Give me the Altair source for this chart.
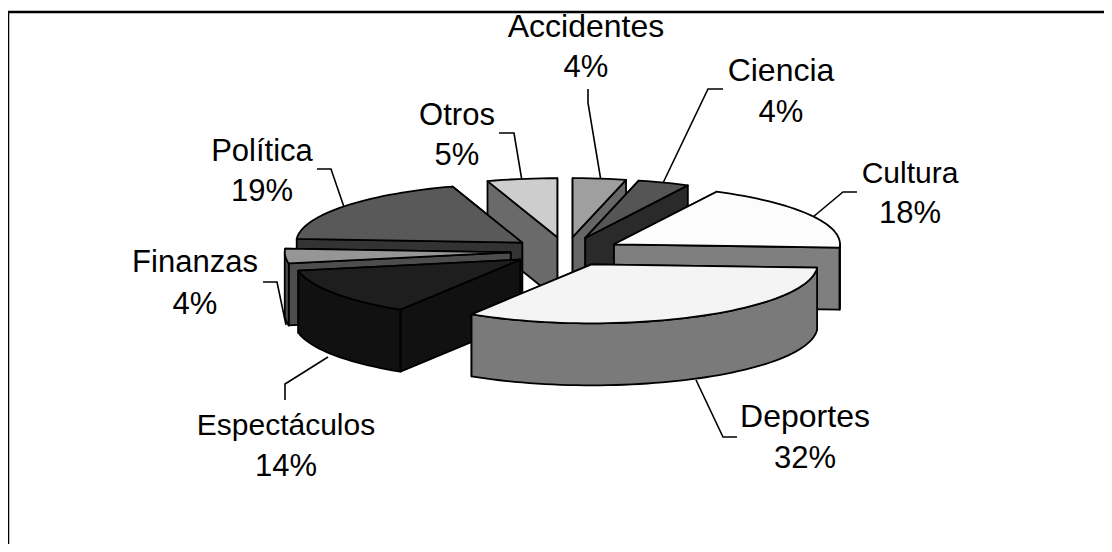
import math
import altair as alt

# Chart values
categories = ["Accidentes", "Ciencia", "Cultura", "Deportes", "Espectáculos", "Finanzas", "Política", "Otros"]
percent_labels = ["4%", "4%", "18%", "32%", "14%", "4%", "19%", "5%"]
shares = [3.8, 3.7, 18.4, 33.0, 13.1, 4.0, 19.0, 5.0]

# Styles
top_colors = ["#9f9f9f", "#555555", "#fcfcfc", "#f4f4f4", "#1e1e1e", "#969696", "#595959", "#cdcdcd"]
side_colors = ["#666666", "#2a2a2a", "#7f7f7f", "#7a7a7a", "#111111", "#4d4d4d", "#333333", "#6a6a6a"]
paint_order = ["Otros", "Accidentes", "Ciencia", "Política", "Cultura", "Finanzas", "Espectáculos", "Deportes"]

# Label placement: centre x, baseline of name, baseline of percentage, font size
label_x = [586, 781, 910, 805, 286, 195, 262, 457]
label_y1 = [37, 81, 183, 427, 435, 272, 161, 125]
label_y2 = [77, 122, 223, 468, 476, 314, 201, 165]
label_size = [32, 32, 30, 32, 30, 31, 31, 31]

# Leader lines
leaders = [
    [[588, 89], [588, 103], [601, 181]],
    [[723, 89], [708, 89], [663, 183]],
    [[857, 192], [843, 192], [813, 217]],
    [[696, 380], [723, 437], [737, 437]],
    [[328, 357], [285, 384], [285, 400]],
    [[263, 282], [277, 282], [286, 325]],
    [[317, 169], [331, 169], [344, 207]],
    [[499, 133], [514, 133], [522, 181]],
]
frame = [[8, 552], [8, 12], [1112, 12]]

# Pie geometry
CX, CY, RX, RY, DEPTH, EXPLODE = 566, 251.5, 226, 59, 62, 0.245


def rim(a, ax, ay, dz=0):
    r = math.radians(a)
    return [ax + RX * math.sin(r), ay - RY * math.cos(r) + dz]


def poly(points, fill):
    ring = [list(p) for p in points] + [list(points[0])]
    return {"type": "Feature", "properties": {"fill": fill},
            "geometry": {"type": "Polygon", "coordinates": [ring]}}


def slice_faces(start, end, top, side):
    mid = math.radians((start + end) / 2)
    ax = CX + EXPLODE * RX * math.sin(mid)
    ay = CY - EXPLODE * RY * math.cos(mid)
    apex, apex_low = [ax, ay], [ax, ay + DEPTH]

    walls = []
    for a in (start, end):
        p, q = rim(a, ax, ay), rim(a, ax, ay, DEPTH)
        walls.append((p[1], poly([apex, p, q, apex_low], side)))
    walls.sort(key=lambda w: w[0])
    faces = [w[1] for w in walls]

    lo, hi = max(start, 90), min(end, 270)
    if lo < hi:
        n = max(2, int((hi - lo) / 2))
        angs = [lo + (hi - lo) * i / n for i in range(n + 1)]
        upper = [rim(a, ax, ay) for a in angs]
        lower = [rim(a, ax, ay, DEPTH) for a in reversed(angs)]
        faces.append(poly(upper + lower, side))

    n = max(2, int((end - start) / 2))
    angs = [start + (end - start) * i / n for i in range(n + 1)]
    faces.append(poly([apex] + [rim(a, ax, ay) for a in angs], top))
    return faces


bounds = {}
acc = 0
for name, s in zip(categories, shares):
    bounds[name] = (acc * 3.6, (acc + s) * 3.6)
    acc += s

features = []
for name in paint_order:
    i = categories.index(name)
    features += slice_faces(*bounds[name], top_colors[i], side_colors[i])


def line(points):
    return {"type": "Feature", "properties": {},
            "geometry": {"type": "LineString", "coordinates": points}}


text_rows = []
for i, name in enumerate(categories):
    text_rows.append({"t": name, "lon": label_x[i], "lat": label_y1[i], "s": label_size[i]})
    text_rows.append({"t": percent_labels[i], "lon": label_x[i], "lat": label_y2[i], "s": 31})

proj = dict(type="identity", scale=1, translate=[-8, -8])

faces = alt.Chart(alt.Data(values=features)).mark_geoshape(
    stroke="black", strokeWidth=1.8, strokeJoin="round"
).encode(fill=alt.Fill("properties.fill:N", scale=None)).project(**proj)

leader_lines = alt.Chart(alt.Data(values=[line(l) for l in leaders])).mark_geoshape(
    filled=False, stroke="black", strokeWidth=1.6
).project(**proj)

frame_line = alt.Chart(alt.Data(values=[line(frame)])).mark_geoshape(
    filled=False, stroke="black", strokeWidth=2.5
).project(**proj)

texts = alt.Chart(alt.Data(values=text_rows)).mark_text(
    font="Liberation Sans", align="center", baseline="alphabetic", color="black"
).encode(
    longitude="lon:Q", latitude="lat:Q", text="t:N",
    size=alt.Size("s:Q", scale=None, legend=None),
).project(**proj)

chart = alt.layer(frame_line, leader_lines, faces, texts).properties(
    width=1096, height=536, padding=0, background="white"
).configure_view(stroke=None)

chart.save("out.html", embed_options={"renderer": "svg", "actions": False})
